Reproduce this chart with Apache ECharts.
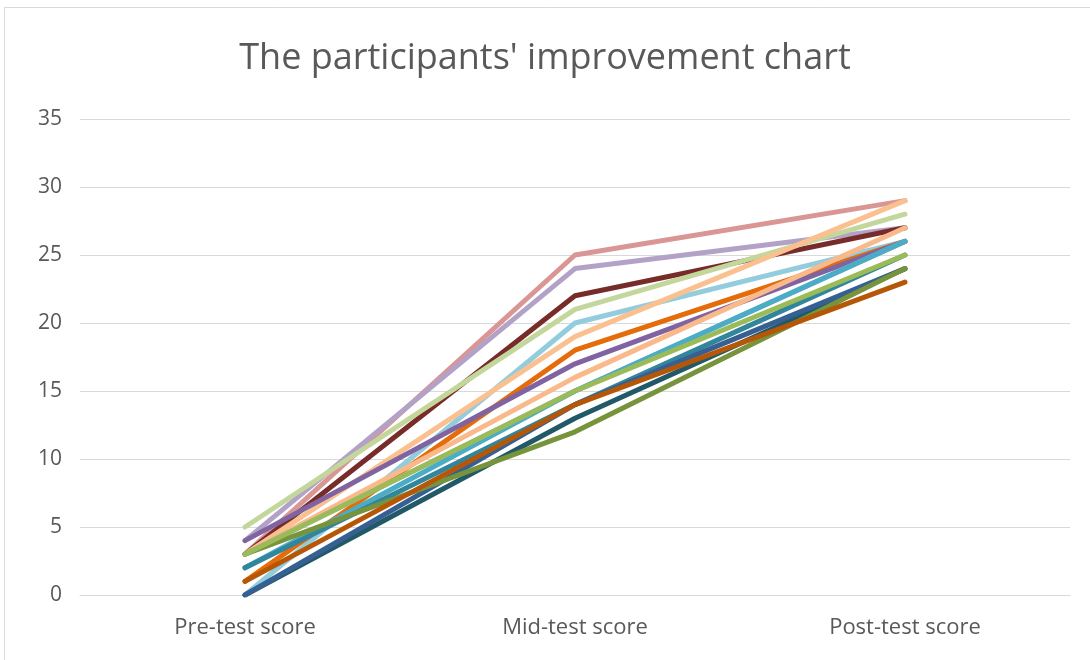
<!DOCTYPE html>
<html><head><meta charset="utf-8">
<script src="https://cdn.jsdelivr.net/npm/echarts@6/dist/echarts.min.js"></script>
<style>html,body{margin:0;padding:0;background:#fff}#c{width:1090px;height:660px}</style>
</head><body><div id="c"></div>
<script>
const categories = ['Pre-test score', 'Mid-test score', 'Post-test score'];
const yTicks = [0, 5, 10, 15, 20, 25, 30, 35];
const p01 = [3, 25, 29];
const p02 = [4, 24, 27];
const p03 = [3, 22, 27];
const p04 = [5, 21, 28];
const p05 = [0, 20, 26];
const p06 = [3, 19, 29];
const p07 = [1, 18, 26];
const p08 = [4, 17, 26];
const p09 = [3, 16, 27];
const p10 = [3, 15, 26];
const p11 = [2, 15, 26];
const p12 = [2, 14, 25];
const p13 = [0, 13, 24];
const p14 = [0, 14, 24];
const p15 = [3, 12, 24];
const p16 = [1, 14, 23];
const p17 = [3, 15, 25];
const seriesData = [p01,p02,p03,p04,p05,p06,p07,p08,p09,p10,p11,p12,p13,p14,p15,p16,p17];
const colors = ['#D99694','#B3A2C7','#772C2A','#C3D69B','#93CDDD','#FAC090','#E46C0A','#8064A2','#F9B98A','#95B3D7','#4BACC6','#31859C','#215968','#376092','#77933C','#B65708','#9BBB59'];
const chart = echarts.init(document.getElementById('c'));
chart.setOption({
  animation: false,
  backgroundColor: '#fff',
  graphic: [{type:'rect', shape:{x:4.5,y:7.5,width:1100,height:700}, style:{fill:'none', stroke:'#D9D9D9', lineWidth:1}, silent:true}],
  title: {text: "The participants' improvement chart", left: 'center', top: 36,
    textStyle: {fontFamily: 'Open Sans', fontWeight: 'normal', fontSize: 36, color: '#595959'}},
  grid: {left: 80, right: 20, top: 119, bottom: 65},
  xAxis: {type: 'category', data: categories, boundaryGap: true,
    axisLine: {show: true, lineStyle: {color: '#D9D9D9'}}, axisTick: {show: false},
    axisLabel: {fontFamily: 'Open Sans', fontSize: 22, color: '#595959', margin: 22}},
  yAxis: {type: 'value', min: 0, max: 35, interval: 5,
    axisLine: {show: false}, axisTick: {show: false},
    splitLine: {lineStyle: {color: '#D9D9D9'}},
    axisLabel: {fontFamily: 'Open Sans', fontSize: 21, color: '#595959', margin: 18,
      formatter: v => yTicks.includes(v) ? String(v) : ''}},
  series: seriesData.map((d, i) => ({type: 'line', data: d, symbol: 'none',
    lineStyle: {width: 5, color: colors[i], cap: 'round', join: 'round'}, itemStyle: {color: colors[i]}}))
});
</script></body></html>
